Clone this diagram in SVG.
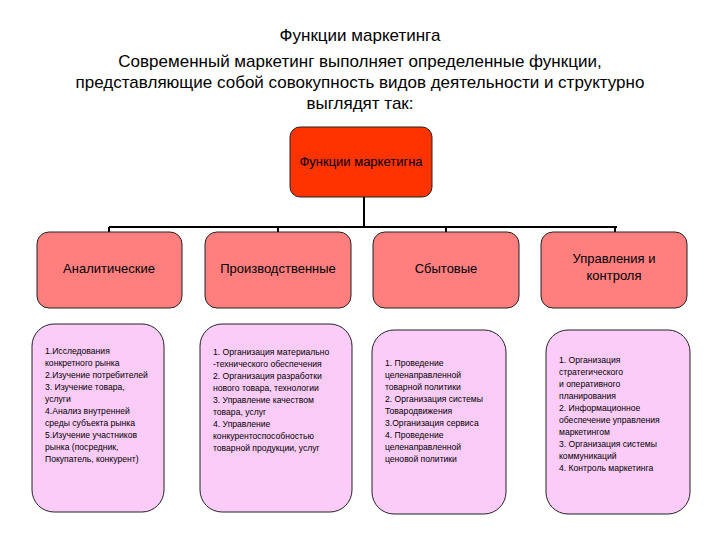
<svg xmlns="http://www.w3.org/2000/svg" width="720" height="540" viewBox="0 0 720 540" xml:space="preserve">
<style>
text{font-family:"Liberation Sans",Arial,sans-serif;fill:#000}
.t{font-size:17px;text-anchor:middle}
.c{font-size:13px;text-anchor:middle}
.s{font-size:8.6px}
.lvl{fill:#ff7f7f;stroke:#222;stroke-width:1}
.det{fill:#fcccf8;stroke:#222;stroke-width:1}
</style>
<rect width="720" height="540" fill="#fff"/>
<text class="t" x="360" y="41">Функции маркетинга</text>
<text class="t" x="360" y="67">Современный маркетинг выполняет определенные функции,</text>
<text class="t" x="360" y="88">представляющие собой совокупность видов деятельности и структурно</text>
<text class="t" x="360" y="109">выглядят так:</text>
<g id="connectors" stroke="#000" stroke-width="2" fill="none">
<path d="M364 197V227M109 227H617M109 227V232M278 227V232M446 227V232M615 227V232"/>
</g>
<g id="root"><rect x="290" y="127" width="142" height="70" rx="10" fill="#ff3300" stroke="#222"/>
<text class="c" x="361" y="166">Функции маркетигна</text></g>
<g id="n1"><rect class="lvl" x="37" y="232" width="145" height="76" rx="12"/><text class="c" x="109" y="273">Аналитические</text></g>
<g id="n2"><rect class="lvl" x="205" y="232" width="146" height="76" rx="12"/><text class="c" x="278" y="273">Производственные</text></g>
<g id="n3"><rect class="lvl" x="373" y="232" width="146" height="76" rx="12"/><text class="c" x="446" y="273">Сбытовые</text></g>
<g id="n4"><rect class="lvl" x="541" y="232" width="146" height="76" rx="12"/><text class="c" x="614" y="263">Управления и</text><text class="c" x="614" y="280">контроля</text></g>
<g id="d1"><rect class="det" x="32" y="324" width="132" height="188" rx="22"/>
<text class="s" x="45" y="354">1.Исследования</text>
<text class="s" x="45" y="366">конкретного рынка</text>
<text class="s" x="45" y="378">2.Изучение потребителей</text>
<text class="s" x="45" y="390">3. Изучение товара,</text>
<text class="s" x="45" y="402">услуги</text>
<text class="s" x="45" y="414">4.Анализ внутренней</text>
<text class="s" x="45" y="426">среды субъекта рынка</text>
<text class="s" x="45" y="438">5.Изучение участников</text>
<text class="s" x="45" y="450"> рынка (посредник,</text>
<text class="s" x="45" y="462">Покупатель, конкурент)</text></g>
<g id="d2"><rect class="det" x="200" y="324" width="152" height="188" rx="22"/>
<text class="s" x="213" y="355">1. Организация материально</text>
<text class="s" x="213" y="367">-технического обеспечения</text>
<text class="s" x="213" y="379">2. Организация разработки</text>
<text class="s" x="213" y="391"> нового товара, технологии</text>
<text class="s" x="213" y="403">3. Управление качеством</text>
<text class="s" x="213" y="415">товара, услуг</text>
<text class="s" x="213" y="427">4. Управление</text>
<text class="s" x="213" y="439"> конкурентоспособностью</text>
<text class="s" x="213" y="451"> товарной продукции, услуг</text></g>
<g id="d3"><rect class="det" x="372" y="330" width="134" height="184" rx="22"/>
<text class="s" x="385" y="366">1.      Проведение</text>
<text class="s" x="385" y="378">целенаправленной</text>
<text class="s" x="385" y="390">товарной политики</text>
<text class="s" x="385" y="402">2. Организация системы</text>
<text class="s" x="385" y="414">Товародвижения</text>
<text class="s" x="385" y="426">3.Организация сервиса</text>
<text class="s" x="385" y="438">4. Проведение</text>
<text class="s" x="385" y="450">целенаправленной</text>
<text class="s" x="385" y="462">ценовой политики</text></g>
<g id="d4"><rect class="det" x="546" y="330" width="144" height="184" rx="22"/>
<text class="s" x="559" y="363">1.      Организация</text>
<text class="s" x="559" y="375">стратегического</text>
<text class="s" x="559" y="387"> и оперативного</text>
<text class="s" x="559" y="399"> планирования</text>
<text class="s" x="559" y="411">2. Информационное</text>
<text class="s" x="559" y="423">обеспечение управления</text>
<text class="s" x="559" y="435"> маркетингом</text>
<text class="s" x="559" y="447">3. Организация системы</text>
<text class="s" x="559" y="459"> коммуникаций</text>
<text class="s" x="559" y="471">4. Контроль маркетинга</text></g>
</svg>
